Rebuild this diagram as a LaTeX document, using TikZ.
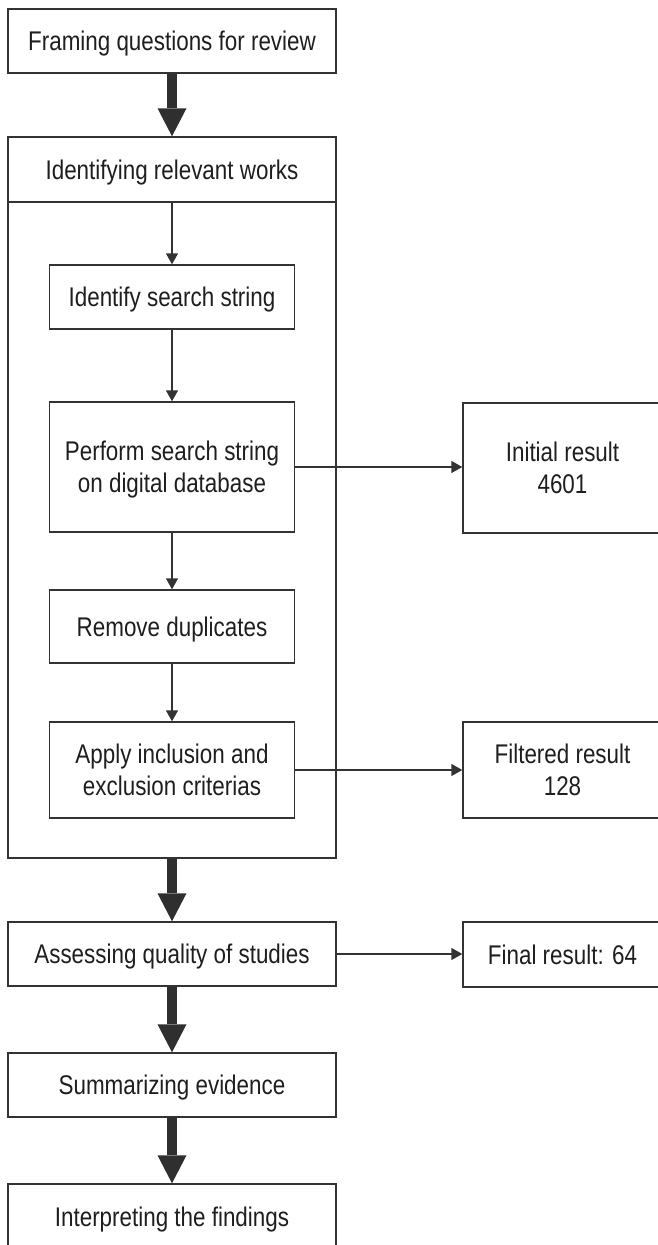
\documentclass[tikz,border=0pt]{standalone}
\usepackage{fontspec}
\setmainfont{Liberation Sans}[FakeStretch=0.83]
\usetikzlibrary{arrows.meta}
\definecolor{ln}{HTML}{333333}
\definecolor{thk}{HTML}{2F2F2F}
\definecolor{txt}{HTML}{1E1E1E}
\begin{document}
\begin{tikzpicture}[x=1pt,y=-1pt,
  box/.style={draw=ln, line width=1.4pt, inner sep=0pt, align=center,
    font=\fontsize{27}{32}\selectfont, text=txt, text height=19.5pt, text depth=0pt},
  twoline/.style={text height=51.5pt},
  smallarrow/.style={draw=ln, line width=1.4pt, -{Triangle[length=11pt,width=12pt]}},
  bigarrow/.style={draw=thk, line width=10pt, -{Triangle[length=28pt,width=29pt,line width=0pt]}}]
\useasboundingbox (0,0) rectangle (658,1245);
\clip (0,0) rectangle (658,1245);
\node[box, minimum width=328pt, minimum height=64pt] (frame) at (172,41) {Framing questions for review};
\node[box, minimum width=328pt, minimum height=721pt] (outer) at (172,497.5) {};
\node[box, minimum width=328pt, minimum height=65pt] (header) at (172,169.5) {Identifying relevant works};
\node[box, minimum width=245pt, minimum height=64pt] (ident) at (172,297) {Identify search string};
\node[box, twoline, minimum width=245pt, minimum height=130pt] (perform) at (172,467) {Perform search string\\on digital database};
\node[box, minimum width=245pt, minimum height=73pt] (remove) at (172,626.5) {Remove duplicates};
\node[box, twoline, minimum width=245pt, minimum height=96pt] (apply) at (172,770) {Apply inclusion and\\exclusion criterias};
\node[box, twoline, minimum width=199pt, minimum height=130pt] (initial) at (562.5,468) {Initial result\\4601};
\node[box, twoline, minimum width=199pt, minimum height=96pt] (filtered) at (562.5,770) {Filtered result\\128};
\node[box, minimum width=328pt, minimum height=64pt] (assess) at (172,954) {Assessing quality of studies};
\node[box, minimum width=199pt, minimum height=65pt] (final) at (562.5,954.5) {Final result: 64};
\node[box, minimum width=328pt, minimum height=64pt] (summ) at (172,1085) {Summarizing evidence};
\node[box, minimum width=328pt, minimum height=66pt] (interp) at (172,1217) {Interpreting the findings};
\draw[bigarrow] (frame.south) -- (header.north);
\draw[bigarrow] (outer.south) -- (assess.north);
\draw[bigarrow] (assess.south) -- (summ.north);
\draw[bigarrow] (summ.south) -- (interp.north);
\draw[smallarrow] (header.south) -- (ident.north);
\draw[smallarrow] (ident.south) -- (perform.north);
\draw[smallarrow] (perform.south) -- (remove.north);
\draw[smallarrow] (remove.south) -- (apply.north);
\draw[smallarrow] (perform.east) -- (perform.east -| initial.west);
\draw[smallarrow] (apply.east) -- (apply.east -| filtered.west);
\draw[smallarrow] (assess.east) -- (assess.east -| final.west);
\end{tikzpicture}
\end{document}
